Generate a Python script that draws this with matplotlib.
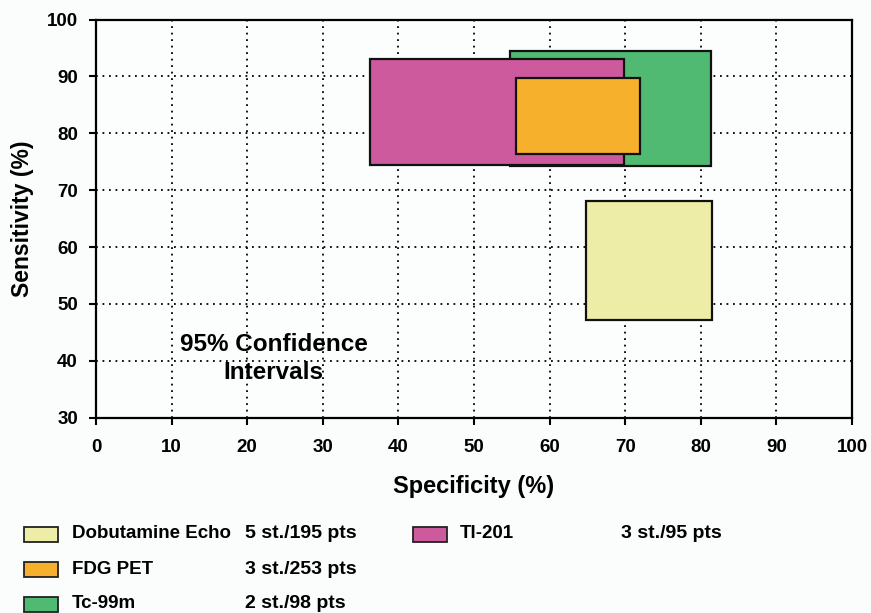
import matplotlib
matplotlib.use("Agg")
import matplotlib.pyplot as plt
from matplotlib.patches import Rectangle

plt.rcParams['font.family'] = ['Liberation Sans', 'DejaVu Sans']
plt.rcParams['font.weight'] = 'bold'

# 95% confidence intervals: specificity (x) and sensitivity (y) ranges
methods = ["Tc-99m", "Tl-201", "FDG PET", "Dobutamine Echo"]
spec_low = [54.7, 36.2, 55.5, 64.8]
spec_high = [81.4, 69.8, 72.0, 81.5]
sens_low = [74.3, 74.4, 76.4, 47.2]
sens_high = [94.5, 93.1, 89.7, 68.1]
colors = ["#50BA72", "#CE5A9E", "#F7B02B", "#EDEDA8"]

studies = {"Dobutamine Echo": "5 st./195 pts",
           "FDG PET": "3 st./253 pts",
           "Tc-99m": "2 st./98 pts",
           "Tl-201": "3 st./95 pts"}

x_ticks = list(range(0, 101, 10))
y_ticks = list(range(30, 101, 10))

W, H = 871, 613
fig = plt.figure(figsize=(W / 100, H / 100), dpi=100)
fig.patch.set_facecolor("#FBFDFD")
ax = fig.add_axes([96 / W, 1 - 417.7 / H, (852 - 96) / W, (417.7 - 19.5) / H])
ax.set_facecolor("#FCFEFE")

ax.set_xlim(0, 100)
ax.set_ylim(30, 100)
ax.set_xticks(x_ticks)
ax.set_yticks(y_ticks)
ax.grid(True, color="black", linestyle=(0, (1, 2.6)), linewidth=1.3)
ax.set_axisbelow(True)
for s in ax.spines.values():
    s.set_linewidth(1.6)
ax.tick_params(direction="out", length=5, width=1.5, labelsize=13.5)
ax.tick_params(axis="x", pad=10)
ax.tick_params(axis="y", pad=8)
for lab in ax.get_xticklabels() + ax.get_yticklabels():
    lab.set_fontweight("bold")

for m, x0, x1, y0, y1, c in zip(methods, spec_low, spec_high, sens_low, sens_high, colors):
    ax.add_patch(Rectangle((x0, y0), x1 - x0, y1 - y0, facecolor=c,
                           edgecolor="#111111", linewidth=1.6, zorder=3))

ax.set_xlabel("Specificity (%)", fontsize=17, fontweight="bold", labelpad=14)
ax.set_ylabel("Sensitivity (%)", fontsize=16.5, fontweight="bold", labelpad=9)

ax.text(23.5, 40.4, "95% Confidence\nIntervals", ha="center", va="center",
        fontsize=17.5, fontweight="bold", linespacing=1.3, zorder=4)

# Legend block below the axes
color_of = dict(zip(methods, colors))
legend_rows = [
    [("Dobutamine Echo", 24, 72, 245), ("Tl-201", 413, 460, 621)],
    [("FDG PET", 24, 72, 245)],
    [("Tc-99m", 24, 72, 245)],
]
row_y = [534, 569, 604]
for row, yc in zip(legend_rows, row_y):
    for name, sx, tx, nx in row:
        fig.add_artist(Rectangle((sx / W, 1 - (yc + 7.5) / H), 34 / W, 15 / H,
                                 transform=fig.transFigure, facecolor=color_of[name],
                                 edgecolor="#222222", linewidth=1.3))
        fig.text(tx / W, 1 - yc / H, name, ha="left", va="center",
                 fontsize=13.5, fontweight="bold")
        fig.text(nx / W, 1 - yc / H, studies[name], ha="left", va="center",
                 fontsize=14, fontweight="bold")

fig.savefig("out.png", dpi=100, facecolor=fig.get_facecolor())
